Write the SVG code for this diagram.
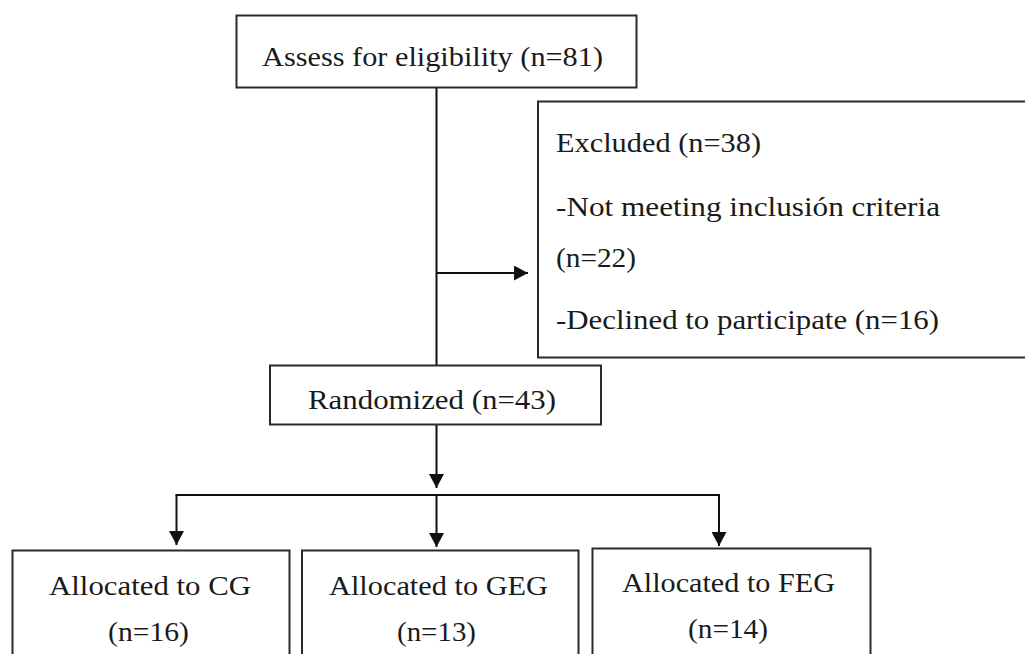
<svg xmlns="http://www.w3.org/2000/svg" width="1025" height="654" viewBox="0 0 1025 654">
<defs>
<style>
.box{fill:#fff;stroke:#2a2a2a;stroke-width:2}
.t{font-family:"Liberation Serif","Times New Roman",serif;font-size:27px;fill:#1a1a1a}
.b{font-family:"Liberation Serif","Times New Roman",serif;font-size:28px;fill:#1a1a1a}
.c{stroke:#111;stroke-width:2;fill:none}
</style>
<marker id="ah" viewBox="0 0 14 15" refX="14" refY="7.5" markerWidth="14" markerHeight="15" markerUnits="userSpaceOnUse" orient="auto">
<path d="M0,0 L14,7.5 L0,15 z" fill="#111"/>
</marker>
</defs>
<rect width="1025" height="654" fill="#fff"/>
<g id="connectors">
<line class="c" x1="436.5" y1="87" x2="436.5" y2="365"/>
<line class="c" x1="436.5" y1="273" x2="528" y2="273" marker-end="url(#ah)"/>
<line class="c" x1="436.5" y1="425" x2="436.5" y2="488" marker-end="url(#ah)"/>
<line class="c" x1="175.5" y1="495" x2="720" y2="495"/>
<line class="c" x1="176.5" y1="495" x2="176.5" y2="545" marker-end="url(#ah)"/>
<line class="c" x1="436.5" y1="495" x2="436.5" y2="547" marker-end="url(#ah)"/>
<line class="c" x1="719" y1="495" x2="719" y2="546" marker-end="url(#ah)"/>
</g>
<g id="assess">
<rect class="box" x="236.5" y="15.5" width="400" height="72"/>
<text class="t" x="262" y="66" textLength="341" lengthAdjust="spacingAndGlyphs">Assess for eligibility  (n=81)</text>
</g>
<g id="excluded">
<rect class="box" x="538" y="101.5" width="500" height="256"/>
<text class="t" x="556" y="152" textLength="205" lengthAdjust="spacingAndGlyphs">Excluded (n=38)</text>
<text class="t" x="556" y="216" textLength="384" lengthAdjust="spacingAndGlyphs">-Not meeting inclusión criteria</text>
<text class="t" x="556" y="267" textLength="80" lengthAdjust="spacingAndGlyphs">(n=22)</text>
<text class="t" x="556" y="329" textLength="383" lengthAdjust="spacingAndGlyphs">-Declined to participate (n=16)</text>
</g>
<g id="randomized">
<rect class="box" x="270" y="365.5" width="331" height="59"/>
<text class="t" x="308" y="408.5" textLength="248" lengthAdjust="spacingAndGlyphs">Randomized (n=43)</text>
</g>
<g id="cg">
<rect class="box" x="12.5" y="550.5" width="277" height="120"/>
<text class="b" x="49" y="595" textLength="202" lengthAdjust="spacingAndGlyphs">Allocated to CG</text>
<text class="b" x="108" y="641" textLength="81" lengthAdjust="spacingAndGlyphs">(n=16)</text>
</g>
<g id="geg">
<rect class="box" x="302" y="550.5" width="276.5" height="120"/>
<text class="b" x="329" y="595" textLength="219" lengthAdjust="spacingAndGlyphs">Allocated to GEG</text>
<text class="b" x="397" y="641" textLength="79" lengthAdjust="spacingAndGlyphs">(n=13)</text>
</g>
<g id="feg">
<rect class="box" x="592.5" y="548.5" width="278" height="120"/>
<text class="b" x="622" y="591.5" textLength="213" lengthAdjust="spacingAndGlyphs">Allocated to FEG</text>
<text class="b" x="688" y="637.5" textLength="80" lengthAdjust="spacingAndGlyphs">(n=14)</text>
</g>
</svg>
